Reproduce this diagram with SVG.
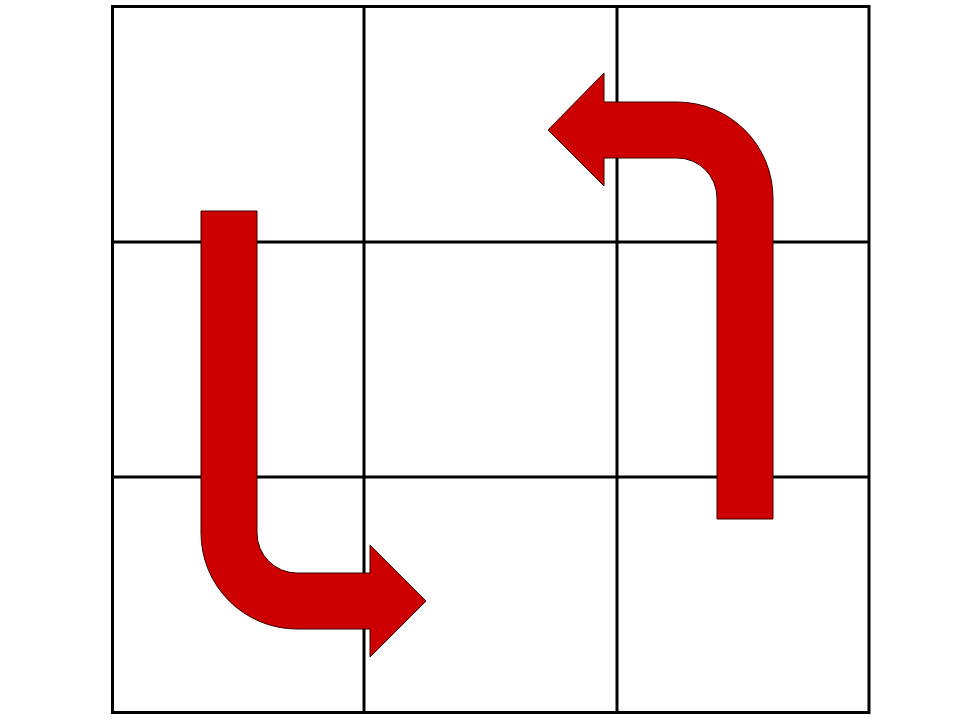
<svg xmlns="http://www.w3.org/2000/svg" width="960" height="720" viewBox="0 0 960 720">
<style>
.grid{fill:none;stroke:#000;stroke-width:3}
.arrow{fill:#CC0000;stroke:#3a0000;stroke-width:1}
</style>
<rect width="960" height="720" fill="#fff"/>
<g id="grid">
<rect class="grid" x="112.5" y="6.5" width="756.5" height="706"/>
<line class="grid" x1="364" y1="6.5" x2="364" y2="712.5"/>
<line class="grid" x1="617" y1="6.5" x2="617" y2="712.5"/>
<line class="grid" x1="112.5" y1="242" x2="869" y2="242"/>
<line class="grid" x1="112.5" y1="477" x2="869" y2="477"/>
</g>
<g id="connectors">
<path id="arrow-left" class="arrow" d="M201,211 H257 V533 A40,40 0 0 0 297,573 H370 V545 L426,601 L370,657 V629 H297 A96,96 0 0 1 201,533 Z"/>
<path id="arrow-right" class="arrow" d="M773,519 H717 V198 A40,40 0 0 0 677,158 H604 V186 L548,130 L604,73 V102 H677 A96,96 0 0 1 773,198 Z"/>
</g>
</svg>
